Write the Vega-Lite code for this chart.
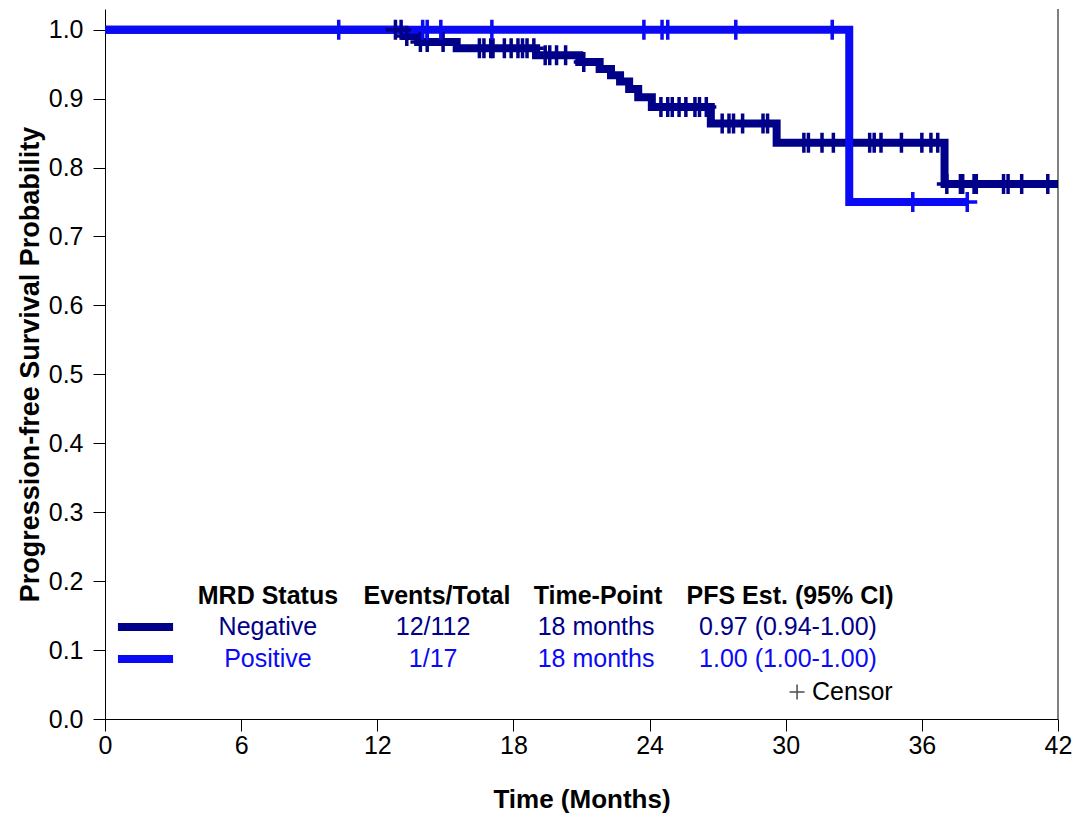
{
  "$schema": "https://vega.github.io/schema/vega-lite/v6.json",
  "width": 953,
  "height": 710,
  "autosize": {"type": "none"},
  "padding": {"left": 105, "top": 9, "right": 16, "bottom": 100},
  "background": "white",
  "config": {
    "view": {"stroke": null},
    "axis": {"grid": false, "domainColor": "#000000", "tickColor": "#000000", "labelColor": "#000000", "titleColor": "#000000", "labelFont": "Liberation Sans", "titleFont": "Liberation Sans", "domainWidth": 1, "tickWidth": 1},
    "text": {"font": "Liberation Sans"}
  },
  "datasets": {
    "curve": [
      {"status": "Negative", "time": 0, "surv": 1.0},
      {"status": "Negative", "time": 13.2, "surv": 0.991},
      {"status": "Negative", "time": 13.8, "surv": 0.982},
      {"status": "Negative", "time": 15.5, "surv": 0.973},
      {"status": "Negative", "time": 19.0, "surv": 0.963},
      {"status": "Negative", "time": 20.9, "surv": 0.953},
      {"status": "Negative", "time": 21.8, "surv": 0.943},
      {"status": "Negative", "time": 22.3, "surv": 0.934},
      {"status": "Negative", "time": 22.7, "surv": 0.925},
      {"status": "Negative", "time": 23.1, "surv": 0.914},
      {"status": "Negative", "time": 23.5, "surv": 0.902},
      {"status": "Negative", "time": 24.1, "surv": 0.888},
      {"status": "Negative", "time": 26.7, "surv": 0.864},
      {"status": "Negative", "time": 29.6, "surv": 0.836},
      {"status": "Negative", "time": 37.0, "surv": 0.776},
      {"status": "Negative", "time": 42.0, "surv": 0.776},
      {"status": "Positive", "time": 0, "surv": 1.0},
      {"status": "Positive", "time": 32.8, "surv": 0.75},
      {"status": "Positive", "time": 38.0, "surv": 0.75}
    ],
    "censor": [
      {"status": "Negative", "time": 12.8, "surv": 1.0},
      {"status": "Negative", "time": 13.05, "surv": 1.0},
      {"status": "Negative", "time": 13.3, "surv": 0.991},
      {"status": "Negative", "time": 13.9, "surv": 0.982},
      {"status": "Negative", "time": 14.2, "surv": 0.982},
      {"status": "Negative", "time": 14.9, "surv": 0.982},
      {"status": "Negative", "time": 16.5, "surv": 0.973},
      {"status": "Negative", "time": 16.7, "surv": 0.973},
      {"status": "Negative", "time": 17.0, "surv": 0.973},
      {"status": "Negative", "time": 17.1, "surv": 0.973},
      {"status": "Negative", "time": 17.6, "surv": 0.973},
      {"status": "Negative", "time": 17.9, "surv": 0.973},
      {"status": "Negative", "time": 18.2, "surv": 0.973},
      {"status": "Negative", "time": 18.4, "surv": 0.973},
      {"status": "Negative", "time": 18.6, "surv": 0.973},
      {"status": "Negative", "time": 18.9, "surv": 0.973},
      {"status": "Negative", "time": 19.4, "surv": 0.963},
      {"status": "Negative", "time": 19.6, "surv": 0.963},
      {"status": "Negative", "time": 19.9, "surv": 0.963},
      {"status": "Negative", "time": 20.3, "surv": 0.963},
      {"status": "Negative", "time": 21.1, "surv": 0.953},
      {"status": "Negative", "time": 24.5, "surv": 0.888},
      {"status": "Negative", "time": 24.8, "surv": 0.888},
      {"status": "Negative", "time": 25.0, "surv": 0.888},
      {"status": "Negative", "time": 25.3, "surv": 0.888},
      {"status": "Negative", "time": 25.6, "surv": 0.888},
      {"status": "Negative", "time": 26.0, "surv": 0.888},
      {"status": "Negative", "time": 26.2, "surv": 0.888},
      {"status": "Negative", "time": 26.5, "surv": 0.888},
      {"status": "Negative", "time": 27.2, "surv": 0.864},
      {"status": "Negative", "time": 27.5, "surv": 0.864},
      {"status": "Negative", "time": 27.7, "surv": 0.864},
      {"status": "Negative", "time": 28.1, "surv": 0.864},
      {"status": "Negative", "time": 29.0, "surv": 0.864},
      {"status": "Negative", "time": 29.2, "surv": 0.864},
      {"status": "Negative", "time": 30.8, "surv": 0.836},
      {"status": "Negative", "time": 31.0, "surv": 0.836},
      {"status": "Negative", "time": 31.6, "surv": 0.836},
      {"status": "Negative", "time": 32.1, "surv": 0.836},
      {"status": "Negative", "time": 33.7, "surv": 0.836},
      {"status": "Negative", "time": 33.9, "surv": 0.836},
      {"status": "Negative", "time": 34.2, "surv": 0.836},
      {"status": "Negative", "time": 35.1, "surv": 0.836},
      {"status": "Negative", "time": 36.0, "surv": 0.836},
      {"status": "Negative", "time": 36.4, "surv": 0.836},
      {"status": "Negative", "time": 36.7, "surv": 0.836},
      {"status": "Negative", "time": 37.1, "surv": 0.776},
      {"status": "Negative", "time": 37.7, "surv": 0.776},
      {"status": "Negative", "time": 37.8, "surv": 0.776},
      {"status": "Negative", "time": 38.3, "surv": 0.776},
      {"status": "Negative", "time": 38.4, "surv": 0.776},
      {"status": "Negative", "time": 39.6, "surv": 0.776},
      {"status": "Negative", "time": 39.8, "surv": 0.776},
      {"status": "Negative", "time": 40.4, "surv": 0.776},
      {"status": "Negative", "time": 41.55, "surv": 0.776},
      {"status": "Positive", "time": 10.3, "surv": 1.0},
      {"status": "Positive", "time": 14.0, "surv": 1.0},
      {"status": "Positive", "time": 14.2, "surv": 1.0},
      {"status": "Positive", "time": 14.8, "surv": 1.0},
      {"status": "Positive", "time": 17.05, "surv": 1.0},
      {"status": "Positive", "time": 23.75, "surv": 1.0},
      {"status": "Positive", "time": 24.55, "surv": 1.0},
      {"status": "Positive", "time": 24.8, "surv": 1.0},
      {"status": "Positive", "time": 27.8, "surv": 1.0},
      {"status": "Positive", "time": 32.05, "surv": 1.0},
      {"status": "Positive", "time": 35.6, "surv": 0.75},
      {"status": "Positive", "time": 38.0, "surv": 0.75}
    ],
    "legend": [
      {"status": "Negative", "events": "12/112", "timepoint": "18 months", "pfs": "0.97 (0.94-1.00)"},
      {"status": "Positive", "events": "1/17", "timepoint": "18 months", "pfs": "1.00 (1.00-1.00)"}
    ]
  },
  "layer": [
    {
      "data": {"name": "curve"},
      "transform": [{"filter": "datum.status === 'Negative'"}],
      "mark": {"type": "line", "interpolate": "step-after", "strokeWidth": 8, "strokeCap": "butt", "strokeJoin": "miter"},
      "encoding": {
        "x": {"field": "time", "type": "quantitative", "scale": {"domain": [0, 42], "nice": false, "zero": false},
          "axis": {"values": [0, 6, 12, 18, 24, 30, 36, 42], "tickSize": 12, "labelPadding": 2, "labelFontSize": 25, "labelFlush": false, "title": "Time (Months)", "titleFontSize": 26, "titleFontWeight": "bold", "titlePadding": 28}},
        "y": {"field": "surv", "type": "quantitative", "scale": {"domain": [0, 1.03], "nice": false, "zero": false},
          "axis": {"values": [0, 0.1, 0.2, 0.3, 0.4, 0.5, 0.6, 0.7, 0.8, 0.9, 1.0], "format": ".1f", "tickSize": 12, "labelPadding": 10, "labelFontSize": 25, "title": "Progression-free Survival Probability", "titleFontSize": 27, "titleFontWeight": "bold", "titlePadding": 4}},
        "color": {"field": "status", "type": "nominal", "scale": {"domain": ["Negative", "Positive"], "range": ["#000088", "#0a0af5"]}, "legend": null}
      }
    },
    {
      "data": {"name": "curve"},
      "transform": [{"filter": "datum.status === 'Positive'"}],
      "mark": {"type": "line", "interpolate": "step-after", "strokeWidth": 8, "strokeCap": "butt", "strokeJoin": "miter"},
      "encoding": {
        "x": {"field": "time", "type": "quantitative"},
        "y": {"field": "surv", "type": "quantitative"},
        "color": {"field": "status", "type": "nominal"}
      }
    },
    {
      "data": {"name": "censor"},
      "mark": {"type": "point", "shape": "M-1,0H1M0,-1V1", "filled": false, "size": 400, "strokeWidth": 3.5, "opacity": 1},
      "encoding": {
        "x": {"field": "time", "type": "quantitative"},
        "y": {"field": "surv", "type": "quantitative"},
        "color": {"field": "status", "type": "nominal"}
      }
    },
    {
      "data": {"values": [{}]},
      "mark": {"type": "rule", "color": "#000000", "strokeWidth": 1},
      "encoding": {"x": {"datum": 42}, "y": {"datum": 0}, "y2": {"datum": 1.03}}
    },
    {
      "data": {"values": [{}]},
      "encoding": {"y": {"datum": 0.1785}},
      "layer": [
        {"mark": {"type": "text", "fontSize": 25, "fontWeight": "bold", "align": "center", "baseline": "middle", "color": "#000000"}, "encoding": {"x": {"datum": 7.18}, "text": {"value": "MRD Status"}}},
        {"mark": {"type": "text", "fontSize": 25, "fontWeight": "bold", "align": "center", "baseline": "middle", "color": "#000000"}, "encoding": {"x": {"datum": 14.63}, "text": {"value": "Events/Total"}}},
        {"mark": {"type": "text", "fontSize": 25, "fontWeight": "bold", "align": "center", "baseline": "middle", "color": "#000000"}, "encoding": {"x": {"datum": 21.73}, "text": {"value": "Time-Point"}}},
        {"mark": {"type": "text", "fontSize": 25, "fontWeight": "bold", "align": "center", "baseline": "middle", "color": "#000000"}, "encoding": {"x": {"datum": 30.19}, "text": {"value": "PFS Est. (95% CI)"}}}
      ]
    },
    {
      "data": {"name": "legend"},
      "transform": [{"filter": "datum.status === 'Negative'"}],
      "encoding": {"y": {"datum": 0.1335}, "color": {"field": "status", "type": "nominal"}},
      "layer": [
        {"mark": {"type": "rule", "strokeWidth": 8}, "encoding": {"x": {"datum": 0.57}, "x2": {"datum": 3.0}}},
        {"mark": {"type": "text", "fontSize": 25, "align": "center", "baseline": "middle"}, "encoding": {"x": {"datum": 7.18}, "text": {"field": "status"}}},
        {"mark": {"type": "text", "fontSize": 25, "align": "center", "baseline": "middle"}, "encoding": {"x": {"datum": 14.46}, "text": {"field": "events"}}},
        {"mark": {"type": "text", "fontSize": 25, "align": "center", "baseline": "middle"}, "encoding": {"x": {"datum": 21.64}, "text": {"field": "timepoint"}}},
        {"mark": {"type": "text", "fontSize": 25, "align": "center", "baseline": "middle"}, "encoding": {"x": {"datum": 30.1}, "text": {"field": "pfs"}}}
      ]
    },
    {
      "data": {"name": "legend"},
      "transform": [{"filter": "datum.status === 'Positive'"}],
      "encoding": {"y": {"datum": 0.087}, "color": {"field": "status", "type": "nominal"}},
      "layer": [
        {"mark": {"type": "rule", "strokeWidth": 8}, "encoding": {"x": {"datum": 0.57}, "x2": {"datum": 3.0}}},
        {"mark": {"type": "text", "fontSize": 25, "align": "center", "baseline": "middle"}, "encoding": {"x": {"datum": 7.18}, "text": {"field": "status"}}},
        {"mark": {"type": "text", "fontSize": 25, "align": "center", "baseline": "middle"}, "encoding": {"x": {"datum": 14.46}, "text": {"field": "events"}}},
        {"mark": {"type": "text", "fontSize": 25, "align": "center", "baseline": "middle"}, "encoding": {"x": {"datum": 21.64}, "text": {"field": "timepoint"}}},
        {"mark": {"type": "text", "fontSize": 25, "align": "center", "baseline": "middle"}, "encoding": {"x": {"datum": 30.1}, "text": {"field": "pfs"}}}
      ]
    },
    {
      "data": {"values": [{}]},
      "encoding": {"y": {"datum": 0.039}},
      "layer": [
        {"mark": {"type": "point", "shape": "M-1,0H1M0,-1V1", "filled": false, "size": 225, "strokeWidth": 1.5, "color": "#000000"}, "encoding": {"x": {"datum": 30.5}}},
        {"mark": {"type": "text", "fontSize": 25, "align": "left", "baseline": "middle", "color": "#000000"}, "encoding": {"x": {"datum": 31.16}, "text": {"value": "Censor"}}}
      ]
    }
  ]
}
